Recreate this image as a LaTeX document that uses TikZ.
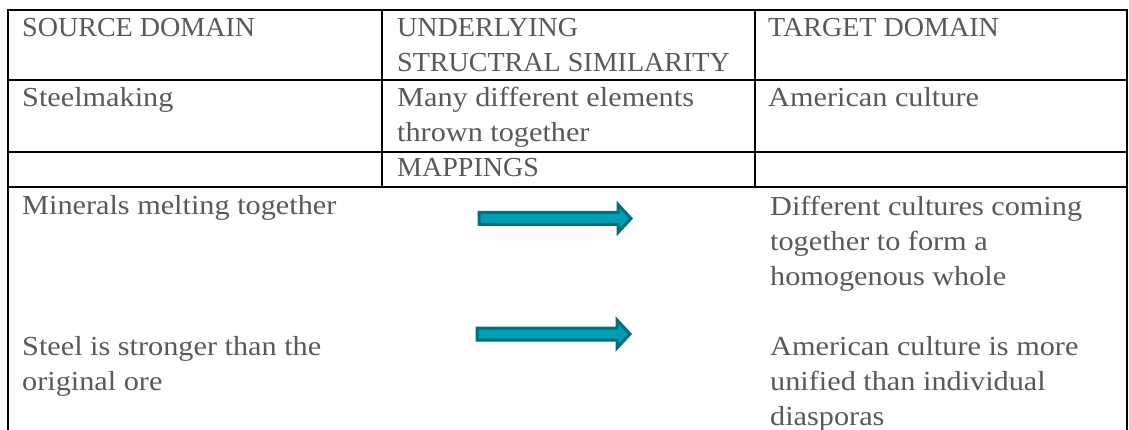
\documentclass[tikz,border=0pt]{standalone}
\usepackage{fontspec}
\setmainfont[FakeStretch=1.1]{Liberation Serif}
\newfontfamily\capsfont[FakeStretch=1.02]{Liberation Serif}
\definecolor{txt}{HTML}{595959}
\definecolor{arrout}{HTML}{00707F}
\definecolor{arrin}{HTML}{009DB5}
\begin{document}
\begin{tikzpicture}[x=1pt,y=-1pt,
  cell/.style={anchor=base west,inner sep=0pt,text=txt,align=left,
    font=\fontsize{27.5}{35}\selectfont},
  capcell/.style={cell,font=\fontsize{27.5}{35}\selectfont\capsfont},
  rule/.style={line width=2pt,black},
  thinrule/.style={line width=1.4pt,black},
  maparrow/.style={draw=arrout,fill=arrin,line width=3pt,line join=miter}]
\path[use as bounding box,fill=white] (0,0) rectangle (1129,430);
% grid
\draw[rule] (8,431) -- (8,10) -- (1127,10) -- (1127,431);
\draw[rule] (8,80) -- (1127,80);
\draw[rule] (8,152) -- (1127,152);
\draw[rule] (8,187) -- (1127,187);
\draw[thinrule] (382,10) -- (382,187);
\draw[thinrule] (755,10) -- (755,187);
% texts (anchor: baseline of the last line)
\node[capcell] (src) at (22,37) {SOURCE DOMAIN};
\node[capcell] (und) at (397,72) {UNDERLYING\\STRUCTRAL SIMILARITY};
\node[capcell] (tgt) at (768,37) {TARGET DOMAIN};
\node[cell] (steel) at (22,107) {Steelmaking};
\node[cell] (many) at (397,142) {Many different elements\\thrown together};
\node[cell] (amc) at (768,107) {American culture};
\node[capcell] (map) at (397,177) {MAPPINGS};
\node[cell] (min) at (22,215) {Minerals melting together};
\node[cell] (str) at (22,390) {Steel is stronger than the\\original ore};
\node[cell] (diff) at (770,285) {Different cultures coming\\together to form a\\homogenous whole};
\node[cell] (uni) at (770,425) {American culture is more\\unified than individual\\diasporas};
% arrows
\draw[maparrow] (479,212.5) -- (618,212.5) -- (618,204.5) -- (631,218.5) -- (618,232.5) -- (618,224.5) -- (479,224.5) -- cycle;
\draw[maparrow] (477,328) -- (617,328) -- (617,320) -- (630,334) -- (617,348) -- (617,340) -- (477,340) -- cycle;
\end{tikzpicture}
\end{document}
